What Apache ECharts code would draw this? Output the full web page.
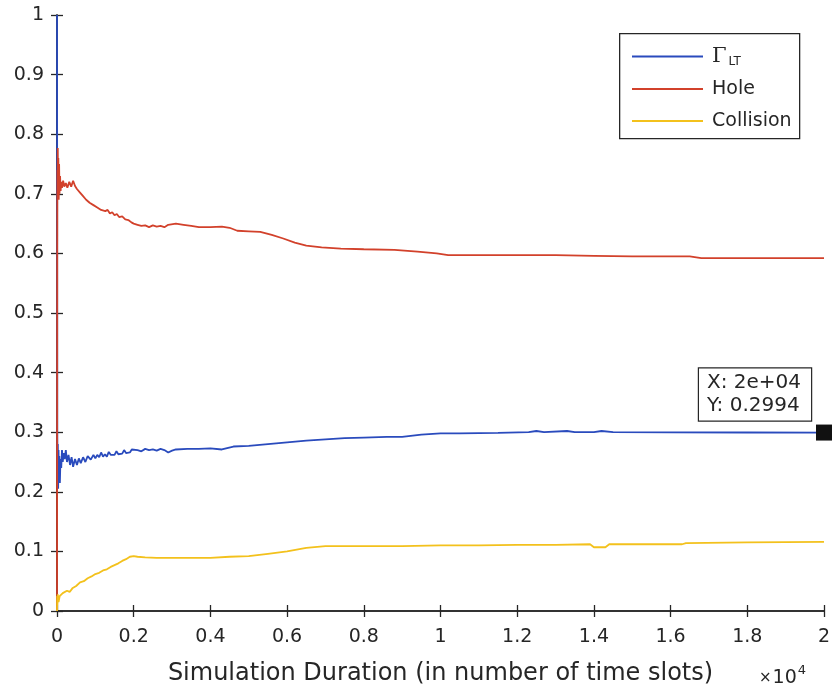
<!DOCTYPE html>
<html>
<head>
<meta charset="utf-8">
<script src="https://cdn.jsdelivr.net/npm/echarts@6/dist/echarts.min.js"></script>
<style>
  html, body { margin: 0; padding: 0; background: #fff; }
  #chart { width: 834px; height: 691px; }
</style>
</head>
<body>
<div id="chart"></div>
<script>
// Time slot index (0 .. 2e4) paired with the running fraction of slots of each kind
const gammaLT = [
  [1, 1], [8, 0.3], [15, 0.22], [22, 0.28], [30, 0.205], [40, 0.27], [50, 0.23], [60, 0.26],
  [75, 0.215], [90, 0.255], [110, 0.24], [130, 0.27], [150, 0.25], [175, 0.265], [200, 0.255],
  [230, 0.27], [260, 0.25], [300, 0.262], [340, 0.245], [380, 0.258], [420, 0.242], [470, 0.255],
  [520, 0.245], [570, 0.256], [620, 0.248], [680, 0.258], [740, 0.25], [800, 0.26], [880, 0.254],
  [950, 0.262], [1000, 0.256], [1050, 0.262], [1100, 0.258], [1150, 0.266], [1200, 0.259],
  [1250, 0.263], [1300, 0.259], [1350, 0.267], [1400, 0.262], [1450, 0.265], [1500, 0.262],
  [1550, 0.268], [1600, 0.263], [1650, 0.266], [1700, 0.264], [1750, 0.27], [1800, 0.265],
  [1850, 0.268], [1900, 0.266], [1950, 0.271], [2000, 0.268], [2100, 0.27], [2200, 0.268],
  [2300, 0.272], [2400, 0.27], [2500, 0.271], [2600, 0.269], [2700, 0.272], [2800, 0.27],
  [2900, 0.266], [3000, 0.269], [3100, 0.271], [3400, 0.272], [3700, 0.272], [4000, 0.273],
  [4300, 0.271], [4600, 0.276], [5000, 0.277], [5500, 0.28], [6000, 0.283], [6500, 0.286],
  [7000, 0.288], [7500, 0.29], [8000, 0.291], [8600, 0.292], [9000, 0.292], [9500, 0.296],
  [10000, 0.298], [10500, 0.298], [11500, 0.299], [12300, 0.3], [12500, 0.302], [12700, 0.3],
  [13300, 0.302], [13500, 0.3], [14000, 0.3], [14200, 0.302], [14500, 0.3], [16000, 0.2996],
  [18000, 0.2995], [20000, 0.2994]
];

const hole = [
  [1, 0], [6, 0.6], [10, 0.74], [15, 0.69], [20, 0.777], [28, 0.7], [35, 0.76], [45, 0.69],
  [55, 0.75], [65, 0.7], [80, 0.73], [95, 0.705], [110, 0.72], [130, 0.71], [160, 0.722],
  [190, 0.712], [230, 0.718], [270, 0.71], [320, 0.72], [370, 0.712], [420, 0.722], [470, 0.713],
  [520, 0.708], [560, 0.71], [600, 0.702], [640, 0.704], [680, 0.696], [720, 0.699], [760, 0.69],
  [800, 0.693], [850, 0.685], [900, 0.688], [950, 0.681], [1000, 0.684], [1050, 0.677],
  [1100, 0.679], [1150, 0.673], [1200, 0.676], [1260, 0.671], [1320, 0.673], [1380, 0.667],
  [1440, 0.669], [1500, 0.664], [1560, 0.666], [1620, 0.661], [1700, 0.662], [1780, 0.657],
  [1860, 0.656], [1940, 0.652], [2000, 0.65], [2100, 0.648], [2200, 0.646], [2300, 0.647],
  [2400, 0.644], [2500, 0.647], [2600, 0.645], [2700, 0.646], [2800, 0.644], [2900, 0.648],
  [3100, 0.65], [3300, 0.648], [3500, 0.646], [3700, 0.644], [4000, 0.644], [4300, 0.645],
  [4500, 0.643], [4700, 0.638], [5000, 0.637], [5300, 0.636], [5600, 0.631], [5900, 0.625],
  [6200, 0.618], [6500, 0.613], [6900, 0.61], [7400, 0.608], [8000, 0.607], [8800, 0.606],
  [9400, 0.603], [9900, 0.6], [10200, 0.597], [11000, 0.597], [12000, 0.597], [13000, 0.597],
  [14000, 0.596], [15000, 0.595], [16500, 0.595], [16800, 0.592], [18000, 0.592], [20000, 0.592]
];

const collision = [
  [1, 0], [5, 0.025], [12, 0.01], [20, 0.028], [40, 0.015], [70, 0.025], [100, 0.022],
  [150, 0.03], [200, 0.028], [260, 0.034], [330, 0.032], [400, 0.038], [450, 0.036],
  [500, 0.042], [550, 0.041], [600, 0.048], [650, 0.046], [700, 0.05], [750, 0.05], [800, 0.055],
  [850, 0.054], [900, 0.058], [950, 0.058], [1000, 0.062], [1050, 0.061], [1100, 0.064],
  [1150, 0.064], [1200, 0.068], [1250, 0.067], [1300, 0.07], [1350, 0.07], [1400, 0.074],
  [1500, 0.077], [1600, 0.08], [1700, 0.084], [1800, 0.087], [1900, 0.091], [2000, 0.092],
  [2100, 0.091], [2300, 0.09], [2600, 0.089], [3000, 0.089], [3500, 0.089], [4000, 0.089],
  [4500, 0.091], [5000, 0.092], [5500, 0.096], [6000, 0.1], [6500, 0.106], [7000, 0.109],
  [8000, 0.109], [9000, 0.109], [10000, 0.11], [11000, 0.11], [12000, 0.111], [13000, 0.111],
  [13900, 0.112], [14000, 0.107], [14300, 0.107], [14400, 0.112], [15500, 0.112], [16300, 0.112],
  [16400, 0.114], [18000, 0.115], [20000, 0.116]
];

const seriesNames = ['ΓLT', 'Hole', 'Collision'];
const xTicks = [0, 0.2, 0.4, 0.6, 0.8, 1, 1.2, 1.4, 1.6, 1.8, 2];   // in units of 1e4 slots
const tipPoint = [20000, 0.2994];
const tipText = 'X: 2e+04\nY: 0.2994';

const FONT = 'DejaVu Sans';
const INK = '#262626';
const COLORS = ['#2a4bbd', '#d2412b', '#f3c11c'];

const chart = echarts.init(document.getElementById('chart'), null, { renderer: 'canvas' });

const grid = { left: 57, top: 15, width: 767, height: 597 };

const axisLineStyle = { lineStyle: { color: INK, width: 1.5 } };
const tickStyle = { inside: true, length: 6, lineStyle: { color: INK, width: 1.3 } };

function line(name, data, color, extra) {
  return Object.assign({
    name: name,
    type: 'line',
    data: data,
    showSymbol: false,
    symbol: 'none',
    clip: false,
    animation: false,
    lineStyle: { color: color, width: 1.8 },
    itemStyle: { color: color }
  }, extra || {});
}

chart.setOption({
  backgroundColor: '#fff',
  animation: false,
  textStyle: { fontFamily: FONT, color: INK },
  grid: grid,
  xAxis: [{
    type: 'value',
    min: 0, max: 20000, interval: 2000,
    name: 'Simulation Duration (in number of time slots)',
    nameLocation: 'middle',
    nameGap: 51,
    nameTextStyle: { fontFamily: FONT, fontSize: 24, color: INK },
    axisLine: axisLineStyle,
    axisTick: tickStyle,
    splitLine: { show: false },
    axisLabel: {
      fontFamily: FONT, fontSize: 19, color: INK, margin: 17,
      formatter: v => String(xTicks[Math.round(v / 2000)])
    }
  }, {
    type: 'value', position: 'top',
    min: 0, max: 20000, interval: 2000,
    axisLine: axisLineStyle, axisTick: tickStyle,
    axisLabel: { show: false }, splitLine: { show: false }
  }],
  yAxis: [{
    type: 'value',
    min: 0, max: 1, interval: 0.1,
    axisLine: axisLineStyle,
    axisTick: tickStyle,
    splitLine: { show: false },
    axisLabel: { fontFamily: FONT, fontSize: 19, color: INK, margin: 13 }
  }, {
    type: 'value', position: 'right',
    min: 0, max: 1, interval: 0.1,
    axisLine: axisLineStyle, axisTick: tickStyle,
    axisLabel: { show: false }, splitLine: { show: false }
  }],
  legend: {
    data: seriesNames,
    orient: 'vertical',
    left: 632, top: 45,
    z: 20,
    padding: 0,
    itemGap: 10,
    itemWidth: 71, itemHeight: 2,
    icon: 'rect',
    formatter: n => n === 'ΓLT' ? '{g|Γ}{s|LT}' : n,
    textStyle: {
      fontFamily: FONT, fontSize: 19, color: INK, lineHeight: 22,
      padding: [0, 0, 0, 4],
      rich: {
        g: { fontFamily: 'DejaVu Serif', fontSize: 21, color: INK, lineHeight: 22 },
        s: { fontFamily: FONT, fontSize: 12, color: INK, padding: [11, 0, 0, 2], lineHeight: 22 }
      }
    }
  },
  graphic: [
    {
      type: 'rect', left: 619, top: 33, z: 5,
      shape: { width: 180, height: 105 },
      style: { fill: '#fff', stroke: INK, lineWidth: 1.3 }
    },
    {
      type: 'text', right: 834 - 806, top: 664, z: 10,
      style: {
        text: '{a|×}{b|10}{c|4}',
        rich: {
          a: { fontFamily: FONT, fontSize: 15, fill: INK, padding: [4, 1, 0, 0] },
          b: { fontFamily: FONT, fontSize: 19, fill: INK, padding: [4, 0, 0, 0] },
          c: { fontFamily: FONT, fontSize: 13, fill: INK, padding: [0, 0, 12, 1] }
        }
      }
    }
  ],
  series: [
    line(seriesNames[0], gammaLT, COLORS[0], {
      markPoint: {
        symbol: 'rect',
        symbolSize: 16,
        itemStyle: { color: '#111' },
        z: 20,
        data: [{ coord: tipPoint }],
        label: {
          show: true,
          formatter: tipText,
          position: [-117, -56],
          fontFamily: FONT, fontSize: 20, color: INK, lineHeight: 23,
          backgroundColor: '#fff',
          borderColor: INK, borderWidth: 1.2,
          padding: [3, 10, 3, 8],
          align: 'left'
        }
      }
    }),
    line(seriesNames[1], hole, COLORS[1]),
    line(seriesNames[2], collision, COLORS[2])
  ]
});
</script>
</body>
</html>
